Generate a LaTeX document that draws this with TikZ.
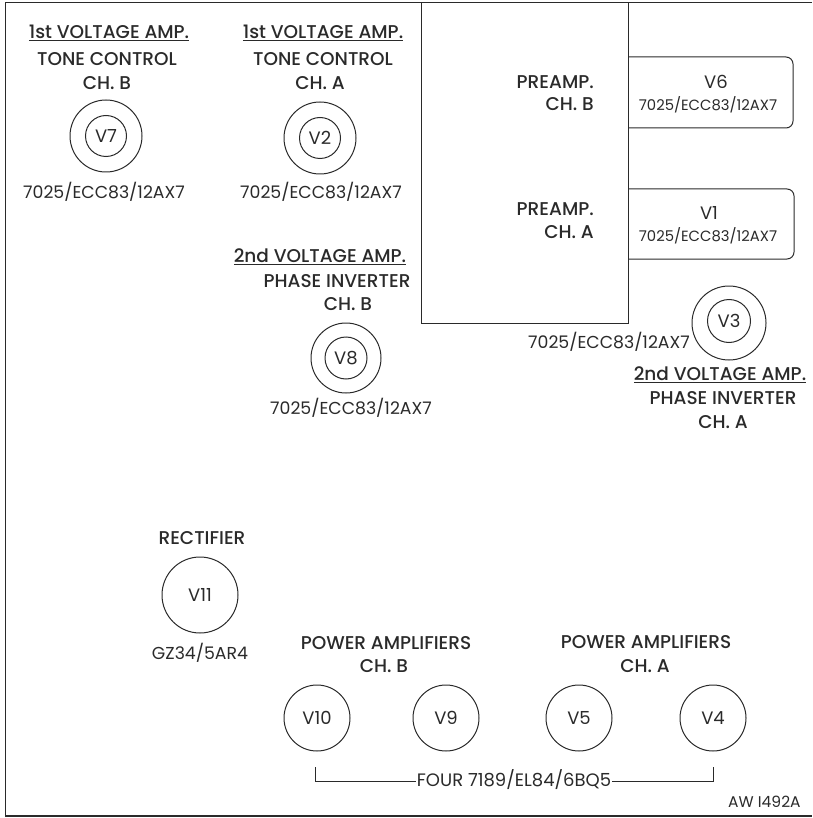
\documentclass[tikz,border=0pt]{standalone}
\usepackage{fontspec}
\setmainfont{Poppins}[BoldFont={Poppins Medium}]
\definecolor{ink}{HTML}{2A2A2A}
\begin{document}
\begin{tikzpicture}[x=1pt,y=-1pt,
  every node/.style={text=ink,inner sep=0pt},
  hd/.style={font=\fontsize{18.5}{21}\selectfont\bfseries},
  sm/.style={font=\fontsize{17.3}{20}\selectfont},
  bx/.style={font=\fontsize{14.8}{17}\selectfont},
  tube/.style={circle,draw=ink,line width=1pt,minimum size=#1,font=\fontsize{18}{20}\selectfont},
  ring/.style={circle,draw=ink,line width=1pt,minimum size=#1},
  ln/.style={draw=ink,line width=1pt}]
\useasboundingbox (0,0) rectangle (812,818);
% frame
\draw[ln] (812,3) -- (5,3) -- (5,816);
\draw[draw=ink,line width=2pt] (5,816) -- (812,816);
% preamp block
\draw[ln] (421,3) rectangle (628,323);
\draw[ln,rounded corners=7pt] (628,57) -- (793,57) -- (793,128) -- (628,128);
\draw[ln,rounded corners=7pt] (628,189) -- (794,189) -- (794,259) -- (628,259);
\node[hd,anchor=east] (pb1) at (594,82) {PREAMP.};
\node[hd,anchor=east] (pb2) at (594,104) {CH. B};
\node[hd,anchor=east] (pa1) at (594,209) {PREAMP.};
\node[hd,anchor=east] (pa2) at (594,232) {CH. A};
\node[font=\fontsize{18}{20}\selectfont] (v6) at (716,82) {V6};
\node[bx] (v6t) at (708,105) {7025/ECC83/12AX7};
\node[font=\fontsize{18}{20}\selectfont] (v1) at (709,213) {V1};
\node[bx] (v1t) at (708,236) {7025/ECC83/12AX7};
% V7
\node[hd] (h7a) at (109,33) {\underline{1st VOLTAGE AMP.}};
\node[hd] (h7b) at (107,59) {TONE CONTROL};
\node[hd] (h7c) at (107,83) {CH. B};
\node[ring=72pt] (v7o) at (106,136) {};
\node[tube=41pt] (v7) at (106,136) {V7};
\node[sm] (v7t) at (104,192) {7025/ECC83/12AX7};
% V2
\node[hd] (h2a) at (323,33) {\underline{1st VOLTAGE AMP.}};
\node[hd] (h2b) at (323,59) {TONE CONTROL};
\node[hd] (h2c) at (320,83) {CH. A};
\node[ring=72pt] (v2o) at (320,138) {};
\node[tube=41pt] (v2) at (320,138) {V2};
\node[sm] (v2t) at (321,192) {7025/ECC83/12AX7};
% V8
\node[hd] (h8a) at (320,257) {\underline{2nd VOLTAGE AMP.}};
\node[hd] (h8b) at (337,281) {PHASE INVERTER};
\node[hd] (h8c) at (348,304) {CH. B};
\node[ring=70pt] (v8o) at (346,358) {};
\node[tube=42pt] (v8) at (346,358) {V8};
\node[sm] (v8t) at (351,408) {7025/ECC83/12AX7};
% V3
\node[ring=74pt] (v3o) at (729,323) {};
\node[tube=43pt] (v3) at (729,321) {V3};
\node[sm] (v3t) at (609,342) {7025/ECC83/12AX7};
\node[hd] (h3a) at (720,375) {\underline{2nd VOLTAGE AMP.}};
\node[hd] (h3b) at (723,398) {PHASE INVERTER};
\node[hd] (h3c) at (723,422) {CH. A};
% rectifier
\node[hd] (hr) at (202,538) {RECTIFIER};
\node[tube=76pt] (v11) at (200,595) {V11};
\node[sm] (v11t) at (200,653) {GZ34/5AR4};
% power amps
\node[hd] (hpb1) at (386,643) {POWER AMPLIFIERS};
\node[hd] (hpb2) at (384,666) {CH. B};
\node[hd] (hpa1) at (646,642) {POWER AMPLIFIERS};
\node[hd] (hpa2) at (645,666) {CH. A};
\node[tube=66pt] (v10) at (317,718) {V10};
\node[tube=66pt] (v9) at (446,718) {V9};
\node[tube=66pt] (v5) at (579,718) {V5};
\node[tube=66pt] (v4) at (713,718) {V4};
\node[sm,font=\fontsize{18}{20}\selectfont,fill=white,inner xsep=1pt] (four) at (514,780) {FOUR 7189/EL84/6BQ5};
\coordinate (bl) at (315,781);
\coordinate (br) at (713,781);
\draw[ln] (bl) ++(0,-14) -- (bl) -- (four.west |- bl);
\draw[ln] (br) ++(0,-14) -- (br) -- (four.east |- br);
\node[anchor=west,font=\fontsize{15.5}{17}\selectfont] (aw) at (728,802) {AW I492A};
\end{tikzpicture}
\end{document}
